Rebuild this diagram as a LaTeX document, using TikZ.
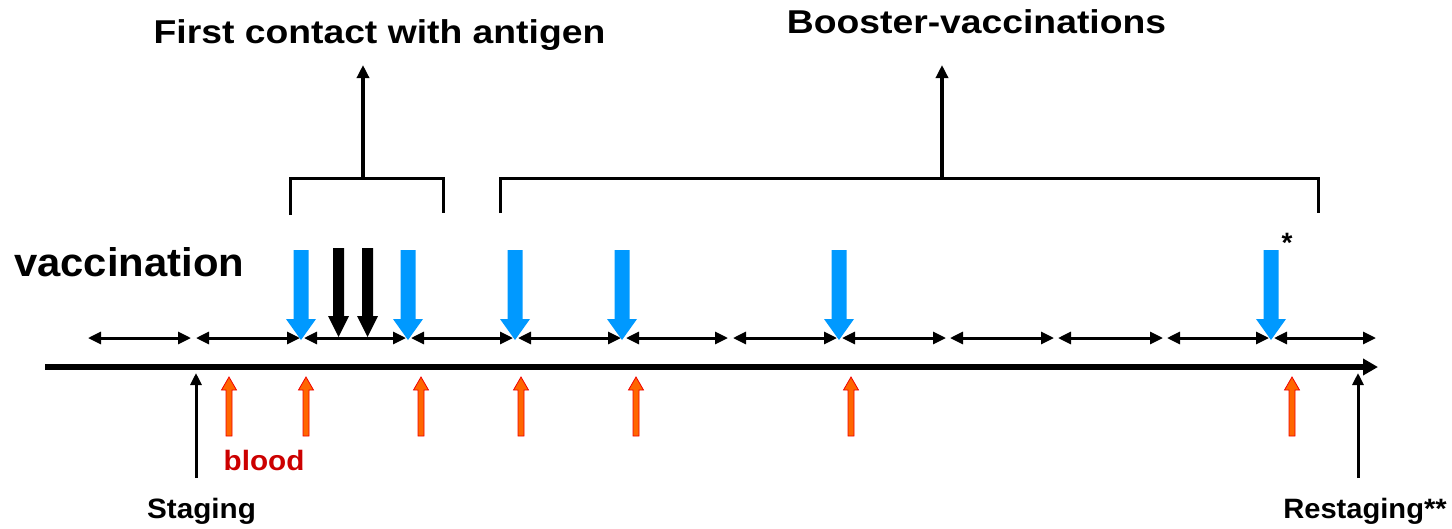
\documentclass[tikz,border=0pt]{standalone}
\usepackage{fontspec}
\usepackage{graphicx}
\setmainfont{Liberation Sans}
\usetikzlibrary{arrows.meta}
\definecolor{vblue}{RGB}{0,153,255}
\definecolor{borange}{RGB}{255,102,0}
\definecolor{bred}{RGB}{240,0,0}
\definecolor{tred}{RGB}{204,0,0}
\newcommand{\hstr}[2]{\scalebox{#1}[1]{#2}}
\begin{document}
\begin{tikzpicture}[x=1pt,y=-1pt,
  dbl/.style={line width=3pt,{Triangle[length=13pt,width=12pt]}-{Triangle[length=13pt,width=12pt]}},
  axis/.style={line width=6pt,-{Triangle[length=15pt,width=16pt]}},
  thinup/.style={line width=3pt,-{Triangle[length=12pt,width=11pt]}},
  brk/.style={line width=3pt},
  toparr/.style={line width=4pt,-{Triangle[length=13pt,width=12pt]}},
  title/.style={font=\bfseries\fontsize{33}{40}\selectfont,inner sep=0pt,anchor=base},
  small/.style={font=\bfseries\fontsize{28}{32}\selectfont,inner sep=0pt,anchor=base},
  bluearrow/.pic={\fill[vblue] (-7.5,-90) -- (7.5,-90) -- (7.5,-21) -- (15,-21) -- (0,0) -- (-15,-21) -- (-7.5,-21) -- cycle;},
  blackarrow/.pic={\fill[black] (-5.5,-89) -- (5.5,-89) -- (5.5,-21) -- (10.5,-21) -- (0,0) -- (-10.5,-21) -- (-5.5,-21) -- cycle;},
  bloodarrow/.pic={\filldraw[fill=borange,draw=bred,line width=0.8pt] (0,0) -- (7.5,13) -- (3,13) -- (3,59) -- (-3,59) -- (-3,13) -- (-7.5,13) -- cycle;}
]
\useasboundingbox (0,0) rectangle (1452,528);

% titles
\node[title] (t1) at (379.5,43) {\hstr{1.13}{First contact with antigen}};
\node[title] (t2) at (976.5,33) {\hstr{1.13}{Booster-vaccinations}};
\node[font=\bfseries\fontsize{40}{46}\selectfont,inner sep=0pt,anchor=base west] (vac) at (14,276) {\hstr{1.045}{vaccination}};

% brackets
\coordinate (b1a) at (290,215); \coordinate (b1b) at (290,178);
\coordinate (b1c) at (443,178); \coordinate (b1d) at (443,213);
\draw[brk] (b1a) -- (b1b) -- (b1c) -- (b1d);
\coordinate (b1m) at (363,178); \coordinate (b1t) at (363,65);
\draw[toparr] (b1m) -- (b1t);
\coordinate (b2a) at (500,213); \coordinate (b2b) at (500,178);
\coordinate (b2c) at (1318,178); \coordinate (b2d) at (1318,213);
\draw[brk] (b2a) -- (b2b) -- (b2c) -- (b2d);
\coordinate (b2m) at (942,178); \coordinate (b2t) at (942,65);
\draw[toparr] (b2m) -- (b2t);

% interval double arrows
\foreach \a/\b [count=\i] in {88/191,196/300,304/406,411/513,518/621,626/728,733/837,842/946,950/1054,1058/1163,1167/1269,1274/1376}{
  \coordinate (s\i) at (\a,338); \coordinate (e\i) at (\b,338);
  \draw[dbl] (s\i) -- (e\i);
}

% vaccination arrows
\foreach \x [count=\i] in {301,408,515,622,839,1271}{
  \pic (va\i) at (\x,340) {bluearrow};
}
\pic (ka1) at (338.5,337) {blackarrow};
\pic (ka2) at (367.5,337) {blackarrow};
\node[font=\bfseries\fontsize{28}{32}\selectfont,inner sep=0pt,anchor=base] (ast) at (1287,252) {*};

% main axis
\coordinate (ax0) at (45,367); \coordinate (ax1) at (1378,367);
\draw[axis] (ax0) -- (ax1);

% blood arrows
\foreach \x [count=\i] in {229,306,421,521,636,851,1292}{
  \pic (bl\i) at (\x,377) {bloodarrow};
}
\node[font=\bfseries\fontsize{28}{32}\selectfont,inner sep=0pt,anchor=base,text=tred] (blood) at (264,470) {\hstr{1.06}{blood}};

% staging arrows
\coordinate (st0) at (196,478); \coordinate (st1) at (196,373);
\draw[thinup] (st0) -- (st1);
\coordinate (rs0) at (1358,478); \coordinate (rs1) at (1358,373);
\draw[thinup] (rs0) -- (rs1);
\node[small] (stg) at (201.5,518) {\hstr{1.06}{Staging}};
\node[small] (rstg) at (1365,518) {\hstr{1.04}{Restaging**}};
\end{tikzpicture}
\end{document}
